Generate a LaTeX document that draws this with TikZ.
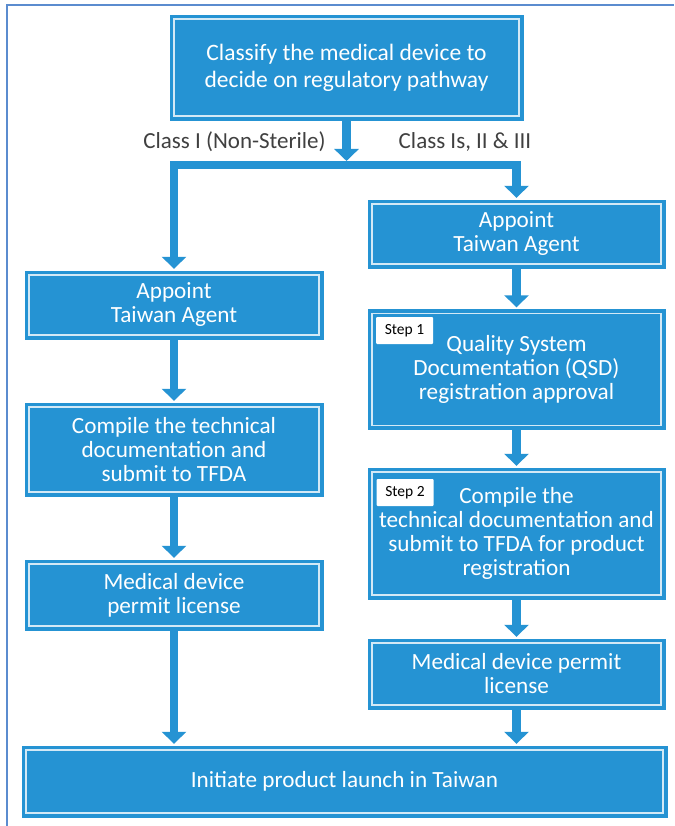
\documentclass[tikz,border=0pt]{standalone}
\usepackage{fontspec}
\setmainfont{Carlito}
\usetikzlibrary{arrows.meta}
\definecolor{boxblue}{HTML}{2593D3}
\definecolor{framecol}{HTML}{5B8CCF}
\definecolor{labgray}{HTML}{404040}
\begin{document}
\begin{tikzpicture}[x=1pt,y=-1pt,
  box/.style={rectangle, fill=boxblue, draw=boxblue, text=white, align=center, inner sep=0pt,
    font=\fontsize{23.2}{24}\selectfont,
    path picture={\draw[white, line width=1.1pt, opacity=0.8]
      ([shift={(4pt,4pt)}]path picture bounding box.south west) rectangle
      ([shift={(-4pt,-4pt)}]path picture bounding box.north east);}},
  lbox/.style={box, minimum width=298pt},
  rbox/.style={box, minimum width=297pt},
  conn/.style={draw=boxblue, line width=8.5pt, -{Triangle[width=24pt,length=12pt]}, shorten >=2pt},
  lab/.style={text=labgray, font=\fontsize{23}{24}\selectfont, inner sep=0pt},
  steplab/.style={fill=white, text=black, minimum width=57pt, minimum height=27pt, inner sep=0pt,
    rounded corners=1pt, font=\fontsize{15.5}{16}\selectfont}
]
\useasboundingbox (0,0) rectangle (674,826);
\fill[white] (0,0) rectangle (674,826);
\draw[framecol, line width=2pt] (7,826) -- (7,5) -- (674,5);

\node[box, minimum width=353pt, minimum height=105pt, font=\fontsize{23.5}{27}\selectfont] (top) at (346.5,67.5)
  {Classify the medical device to\\decide on regulatory pathway};
\node[lab] (lab1) at (234.5,142) {Class I (Non-Sterile)};
\node[lab] (lab2) at (465,142) {Class Is, II \& III};

\node[lbox, minimum height=68pt] (lA) at (174,305) {Appoint\\Taiwan Agent};
\node[lbox, minimum height=93pt] (lC) at (174,449.5) {Compile the technical\\documentation and\\submit to TFDA};
\node[lbox, minimum height=70pt] (lP) at (174,595) {Medical device\\permit license};

\node[rbox, minimum height=68pt] (rA) at (516.5,234) {Appoint\\Taiwan Agent};
\node[rbox, minimum height=120pt] (rS1) at (516.5,369.5) {Quality System\\Documentation (QSD)\\registration approval};
\node[rbox, minimum height=131pt] (rS2) at (516.5,533.5) {Compile the\\technical documentation and\\submit to TFDA for product\\registration};
\node[rbox, minimum height=70pt] (rP) at (516.5,674) {Medical device permit\\license};

\node[steplab] (st1) at (404.5,330.5) {Step 1};
\node[steplab] (st2) at (405,492.5) {Step 2};

\node[box, minimum width=645pt, minimum height=71pt] (bot) at (344.5,781.5) {Initiate product launch in Taiwan};

\coordinate (split) at (346.5,165);
\draw[conn, shorten >=0pt] (top.south) -- ([yshift=4pt]split);
\draw[conn] (split) -| (lA.north);
\draw[conn] (split) -| (rA.north);
\draw[conn] (lA) -- (lC);
\draw[conn] (lC) -- (lP);
\draw[conn] (lP) -- (lP |- bot.north);
\draw[conn] (rA) -- (rS1);
\draw[conn] (rS1) -- (rS2);
\draw[conn] (rS2) -- (rP);
\draw[conn] (rP) -- (rP |- bot.north);
\end{tikzpicture}
\end{document}
